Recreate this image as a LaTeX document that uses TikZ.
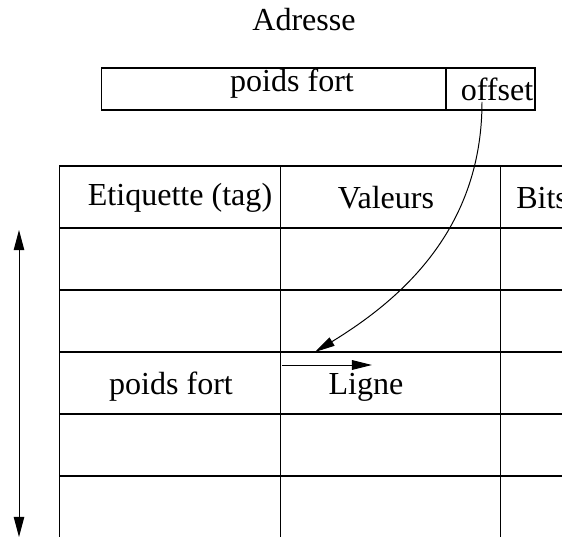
\documentclass[tikz,border=0pt]{standalone}
\usepackage{fontspec}
\setmainfont{Liberation Serif}
\usetikzlibrary{positioning,arrows.meta}

\begin{document}
\begin{tikzpicture}[x=0.025cm, y=-0.025cm,
        txt/.style={inner sep=0pt, font=\fontsize{22.8}{27}\selectfont},
        field/.style={draw, line width=0.75pt, minimum height=1.05cm, inner sep=0pt},
        cell/.style={draw, line width=0.75pt, minimum width=5.5cm,
                    minimum height=1.55cm, inner sep=0pt},
        link/.style={-{Triangle[length=0.5cm, width=0.24cm]}, line width=0.7pt}
    ]
    \useasboundingbox (0,0) rectangle (562,538);
    \clip (0,0) rectangle (562,537);

    % Address
    \node[txt] (adrtitle) at (304,20) {Adresse};
    \node[field, minimum width=8.6cm] (adrhigh) at (274,89) {};
    \node[field, minimum width=2.225cm] (adroff) at (490.5,89) {};
    \node[txt] (adrhightxt) at (292,84) {poids fort};
    \node[txt] (adrofftxt) at (497,89) {offset};

    % Table -- header
    \node[cell] (h1) at (170,197) {};
    \node[cell] (h2) at (390.5,197) {};
    \node[cell] (h3) at (611,197) {};
    \node[txt] (tagtxt) at (180,198) {Etiquette (tag)};
    \node[txt] (valtxt) at (386,198) {Valeurs};
    \node[txt, anchor=west] (bitstxt) at (516,198) {Bits};

    % Table -- lines
    \node[cell] (a1) at (170,259) {};
    \node[cell] (a2) at (390.5,259) {};
    \node[cell] (a3) at (611,259) {};
    \node[cell] (b1) at (170,321) {};
    \node[cell] (b2) at (390.5,321) {};
    \node[cell] (b3) at (611,321) {};
    \node[cell] (c1) at (170,383) {};
    \node[cell] (c2) at (390.5,383) {};
    \node[cell] (c3) at (611,383) {};
    \node[cell] (d1) at (170,445) {};
    \node[cell] (d2) at (390.5,445) {};
    \node[cell] (d3) at (611,445) {};
    \node[cell] (e1) at (170,507) {};
    \node[cell] (e2) at (390.5,507) {};
    \node[cell] (e3) at (611,507) {};

    \node[txt] (linehigh) at (171,387) {poids fort};
    \node[txt] (linetxt) at (366,387) {Ligne};

    % Arrows
    \coordinate (offpt) at (482,102);
    \coordinate (linept) at (315,352);
    \coordinate (ligstart) at (282,365);
    \coordinate (ligend) at (372,365);
    \coordinate (ranktop) at (19,230);
    \coordinate (rankbot) at (19,537);

    \draw[link] (offpt) .. controls (482,230) and (400,300) .. (linept);
    \draw[link] (ligstart) -- (ligend);
    \draw[link, {Triangle[length=0.5cm, width=0.26cm]}-{Triangle[length=0.5cm, width=0.26cm]}]
        (ranktop) -- (rankbot);

\end{tikzpicture}
\end{document}
